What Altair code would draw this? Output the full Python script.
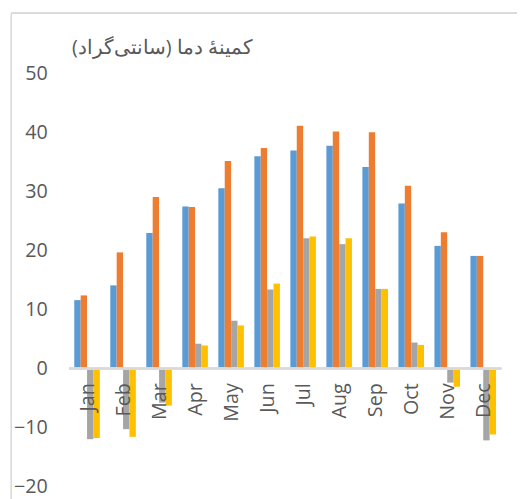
import altair as alt
import pandas as pd

months = ["Jan", "Feb", "Mar", "Apr", "May", "Jun", "Jul", "Aug", "Sep", "Oct", "Nov", "Dec"]
series = ["S1", "S2", "S3", "S4"]
s1 = [11.6, 14.1, 23.0, 27.5, 30.6, 36.0, 37.0, 37.8, 34.2, 28.0, 20.8, 19.1]
s2 = [12.4, 19.7, 29.1, 27.4, 35.2, 37.4, 41.2, 40.2, 40.1, 31.0, 23.1, 19.1]
s3 = [-12.0, -10.3, -5.8, 4.2, 8.1, 13.4, 22.1, 21.1, 13.5, 4.4, -2.4, -12.2]
s4 = [-11.8, -11.6, -6.3, 3.9, 7.3, 14.4, 22.4, 22.1, 13.5, 4.0, -3.1, -11.2]
colors = ["#5B9BD5", "#ED7D31", "#A5A5A5", "#FFC000"]
y_ticks = [-20, -10, 0, 10, 20, 30, 40, 50]
title_text = "کمینهٔ دما (سانتی‌گراد)" + "\u200f"

rows = []
for name, vals in zip(series, [s1, s2, s3, s4]):
    for m, v in zip(months, vals):
        rows.append({"month": m, "series": name, "value": v})
df = pd.DataFrame(rows)
mdf = pd.DataFrame({"month": months})
tdf = pd.DataFrame({"t": [title_text]})

FONT = "Open Sans"

xscale = alt.Scale(domain=months, paddingInner=0.29, paddingOuter=0.145)
yscale = alt.Scale(domain=[-20, 50], nice=False, zero=False)

bars = alt.Chart(df).mark_bar().encode(
    x=alt.X("month:N", scale=xscale, axis=None, sort=months),
    xOffset=alt.XOffset("series:N", scale=alt.Scale(domain=series, paddingInner=0, paddingOuter=0)),
    y=alt.Y("value:Q", scale=yscale,
            axis=alt.Axis(values=y_ticks, title=None, grid=False, domain=False, ticks=False,
                          labelFont=FONT, labelFontSize=20, labelColor="#595959",
                          labelPadding=22, minExtent=62, maxExtent=62)),
    color=alt.Color("series:N", scale=alt.Scale(domain=series, range=colors), legend=None),
)

zero = alt.Chart(mdf).mark_rule(color="#D9D9D9", strokeWidth=1.5).encode(
    y=alt.datum(0), x=alt.value(0), x2=alt.value(439)
)

labels = alt.Chart(mdf).mark_text(
    angle=270, align="right", baseline="middle", dx=-15, dy=1,
    font=FONT, fontSize=20, color="#595959"
).encode(
    x=alt.X("month:N", scale=xscale, sort=months),
    y=alt.datum(0),
    text="month:N",
)

title = alt.Chart(tdf).mark_text(
    align="left", baseline="alphabetic", font=FONT, fontSize=20, color="#595959"
).encode(
    x=alt.value(3), y=alt.value(-20), text="t:N"
)

border_left = alt.Chart(mdf).mark_rule(color="#D9D9D9", strokeWidth=1).encode(
    x=alt.value(-58.5), y=alt.value(-61.5), y2=alt.value(460)
)
border_top = alt.Chart(mdf).mark_rule(color="#D9D9D9", strokeWidth=1).encode(
    x=alt.value(-58.5), x2=alt.value(480), y=alt.value(-61.5)
)

chart = alt.layer(border_left, border_top, bars, zero, labels, title).properties(
    width=439,
    height=419,
    autosize=alt.AutoSizeParams(type="none"),
    padding={"left": 62, "top": 63, "right": 16, "bottom": 9},
).configure_view(stroke=None)

chart.save("out.html", embed_options={"renderer": "svg", "actions": False})
